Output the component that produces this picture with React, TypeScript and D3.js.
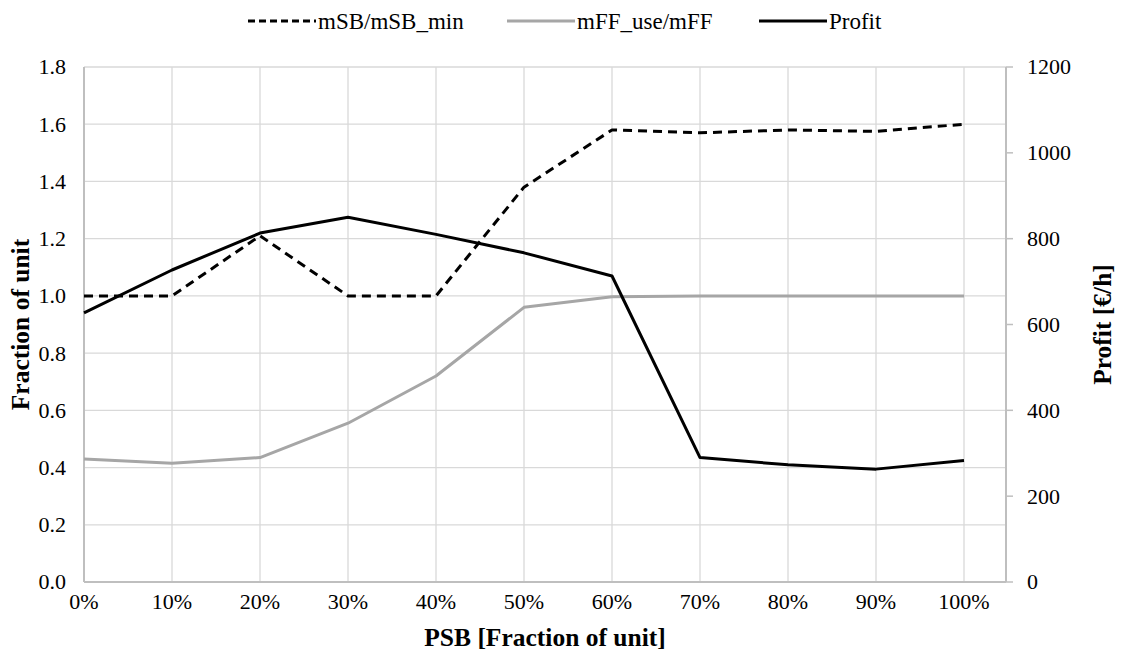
import React from "react";
import * as d3 from "d3";

const categories = ["0%", "10%", "20%", "30%", "40%", "50%", "60%", "70%", "80%", "90%", "100%"];
const msbRatio = [1.0, 1.0, 1.21, 1.0, 1.0, 1.38, 1.58, 1.57, 1.58, 1.575, 1.6];
const mffRatio = [0.43, 0.415, 0.435, 0.555, 0.72, 0.96, 0.997, 1.0, 1.0, 1.0, 1.0];
const profit = [627, 727, 813, 850, 810, 767, 713, 290, 273, 263, 283];
const leftTicks = [0, 0.2, 0.4, 0.6, 0.8, 1.0, 1.2, 1.4, 1.6, 1.8];
const rightTicks = [0, 200, 400, 600, 800, 1000, 1200];

const W = 1123;
const H = 654;
const M = { left: 84, right: 1006, lastCat: 964, top: 67, bottom: 582 };
const FONT = "Times New Roman, Liberation Serif, DejaVu Serif, Noto Serif, serif";
const TICK = 22;
const TITLE = 25.5;
const LEG = 23;

export default function App() {
  const x = d3.scalePoint<string>().domain(categories).range([M.left, M.lastCat]);
  const yL = d3.scaleLinear().domain([0, 1.8]).range([M.bottom, M.top]);
  const yR = d3.scaleLinear().domain([0, 1200]).range([M.bottom, M.top]);

  const lineL = d3
    .line<number>()
    .x((_, i) => x(categories[i]) as number)
    .y((d) => yL(d));
  const lineR = d3
    .line<number>()
    .x((_, i) => x(categories[i]) as number)
    .y((d) => yR(d));

  const legendItems = [
    { label: "mSB/mSB_min", color: "#000", dash: "7,4", x0: 248 },
    { label: "mFF_use/mFF", color: "#a6a6a6", dash: undefined, x0: 507 },
    { label: "Profit", color: "#000", dash: undefined, x0: 759 },
  ];

  return (
    <svg width={W} height={H} fontFamily={FONT} style={{ display: "block", position: "absolute", left: 0, top: 0 }}>
      <rect width={W} height={H} fill="#fff" />
      {leftTicks.map((t) => (
        <line key={"g" + t} x1={M.left} x2={M.right} y1={yL(t)} y2={yL(t)} stroke="#d9d9d9" strokeWidth={1.3} />
      ))}
      {categories.map((c) => (
        <line key={"v" + c} x1={x(c)} x2={x(c)} y1={M.top} y2={M.bottom} stroke="#d9d9d9" strokeWidth={1.3} />
      ))}
      <line x1={M.left} x2={M.left} y1={M.top} y2={M.bottom} stroke="#bfbfbf" strokeWidth={2} />
      <line x1={M.right} x2={M.right} y1={M.top} y2={M.bottom} stroke="#bfbfbf" strokeWidth={2} />
      <line x1={M.left} x2={M.right} y1={M.bottom} y2={M.bottom} stroke="#bfbfbf" strokeWidth={2} />
      {rightTicks.map((t) => (
        <line key={"rt" + t} x1={M.right} x2={M.right + 7} y1={yR(t)} y2={yR(t)} stroke="#bfbfbf" strokeWidth={1.5} />
      ))}
      {leftTicks.map((t) => (
        <text key={"lt" + t} fontFamily={FONT} x={66} y={yL(t)} dy="0.34em" textAnchor="end" fontSize={TICK} fill="#000">
          {t.toFixed(1)}
        </text>
      ))}
      {rightTicks.map((t) => (
        <text key={"rl" + t} fontFamily={FONT} x={1027} y={yR(t)} dy="0.34em" textAnchor="start" fontSize={TICK} fill="#000">
          {t}
        </text>
      ))}
      {categories.map((c) => (
        <text key={"xl" + c} fontFamily={FONT} x={x(c)} y={609} textAnchor="middle" fontSize={TICK} fill="#000">
          {c}
        </text>
      ))}
      <text fontFamily={FONT} x={(M.left + M.right) / 2} y={646} textAnchor="middle" fontSize={TITLE} fontWeight="bold">
        PSB [Fraction of unit]
      </text>
      <text
        fontFamily={FONT}
        transform={`translate(29, ${(M.top + M.bottom) / 2}) rotate(-90)`}
        textAnchor="middle"
        fontSize={TITLE}
        fontWeight="bold"
      >
        Fraction of unit
      </text>
      <text
        fontFamily={FONT}
        transform={`translate(1111, ${(M.top + M.bottom) / 2}) rotate(-90)`}
        textAnchor="middle"
        fontSize={TITLE}
        fontWeight="bold"
      >
        Profit [€/h]
      </text>
      <path d={lineL(mffRatio) || ""} fill="none" stroke="#a6a6a6" strokeWidth={3} strokeLinejoin="round" />
      <path d={lineR(profit) || ""} fill="none" stroke="#000" strokeWidth={3} strokeLinejoin="round" />
      <path d={lineL(msbRatio) || ""} fill="none" stroke="#000" strokeWidth={3} strokeDasharray="9,6" strokeLinejoin="round" />
      {legendItems.map((it) => (
        <g key={it.label}>
          <line x1={it.x0} x2={it.x0 + 68} y1={21} y2={21} stroke={it.color} strokeWidth={3} strokeDasharray={it.dash} />
          <text fontFamily={FONT} x={it.x0 + 70} y={21} dy="0.34em" fontSize={LEG} fill="#000">
            {it.label}
          </text>
        </g>
      ))}
    </svg>
  );
}
